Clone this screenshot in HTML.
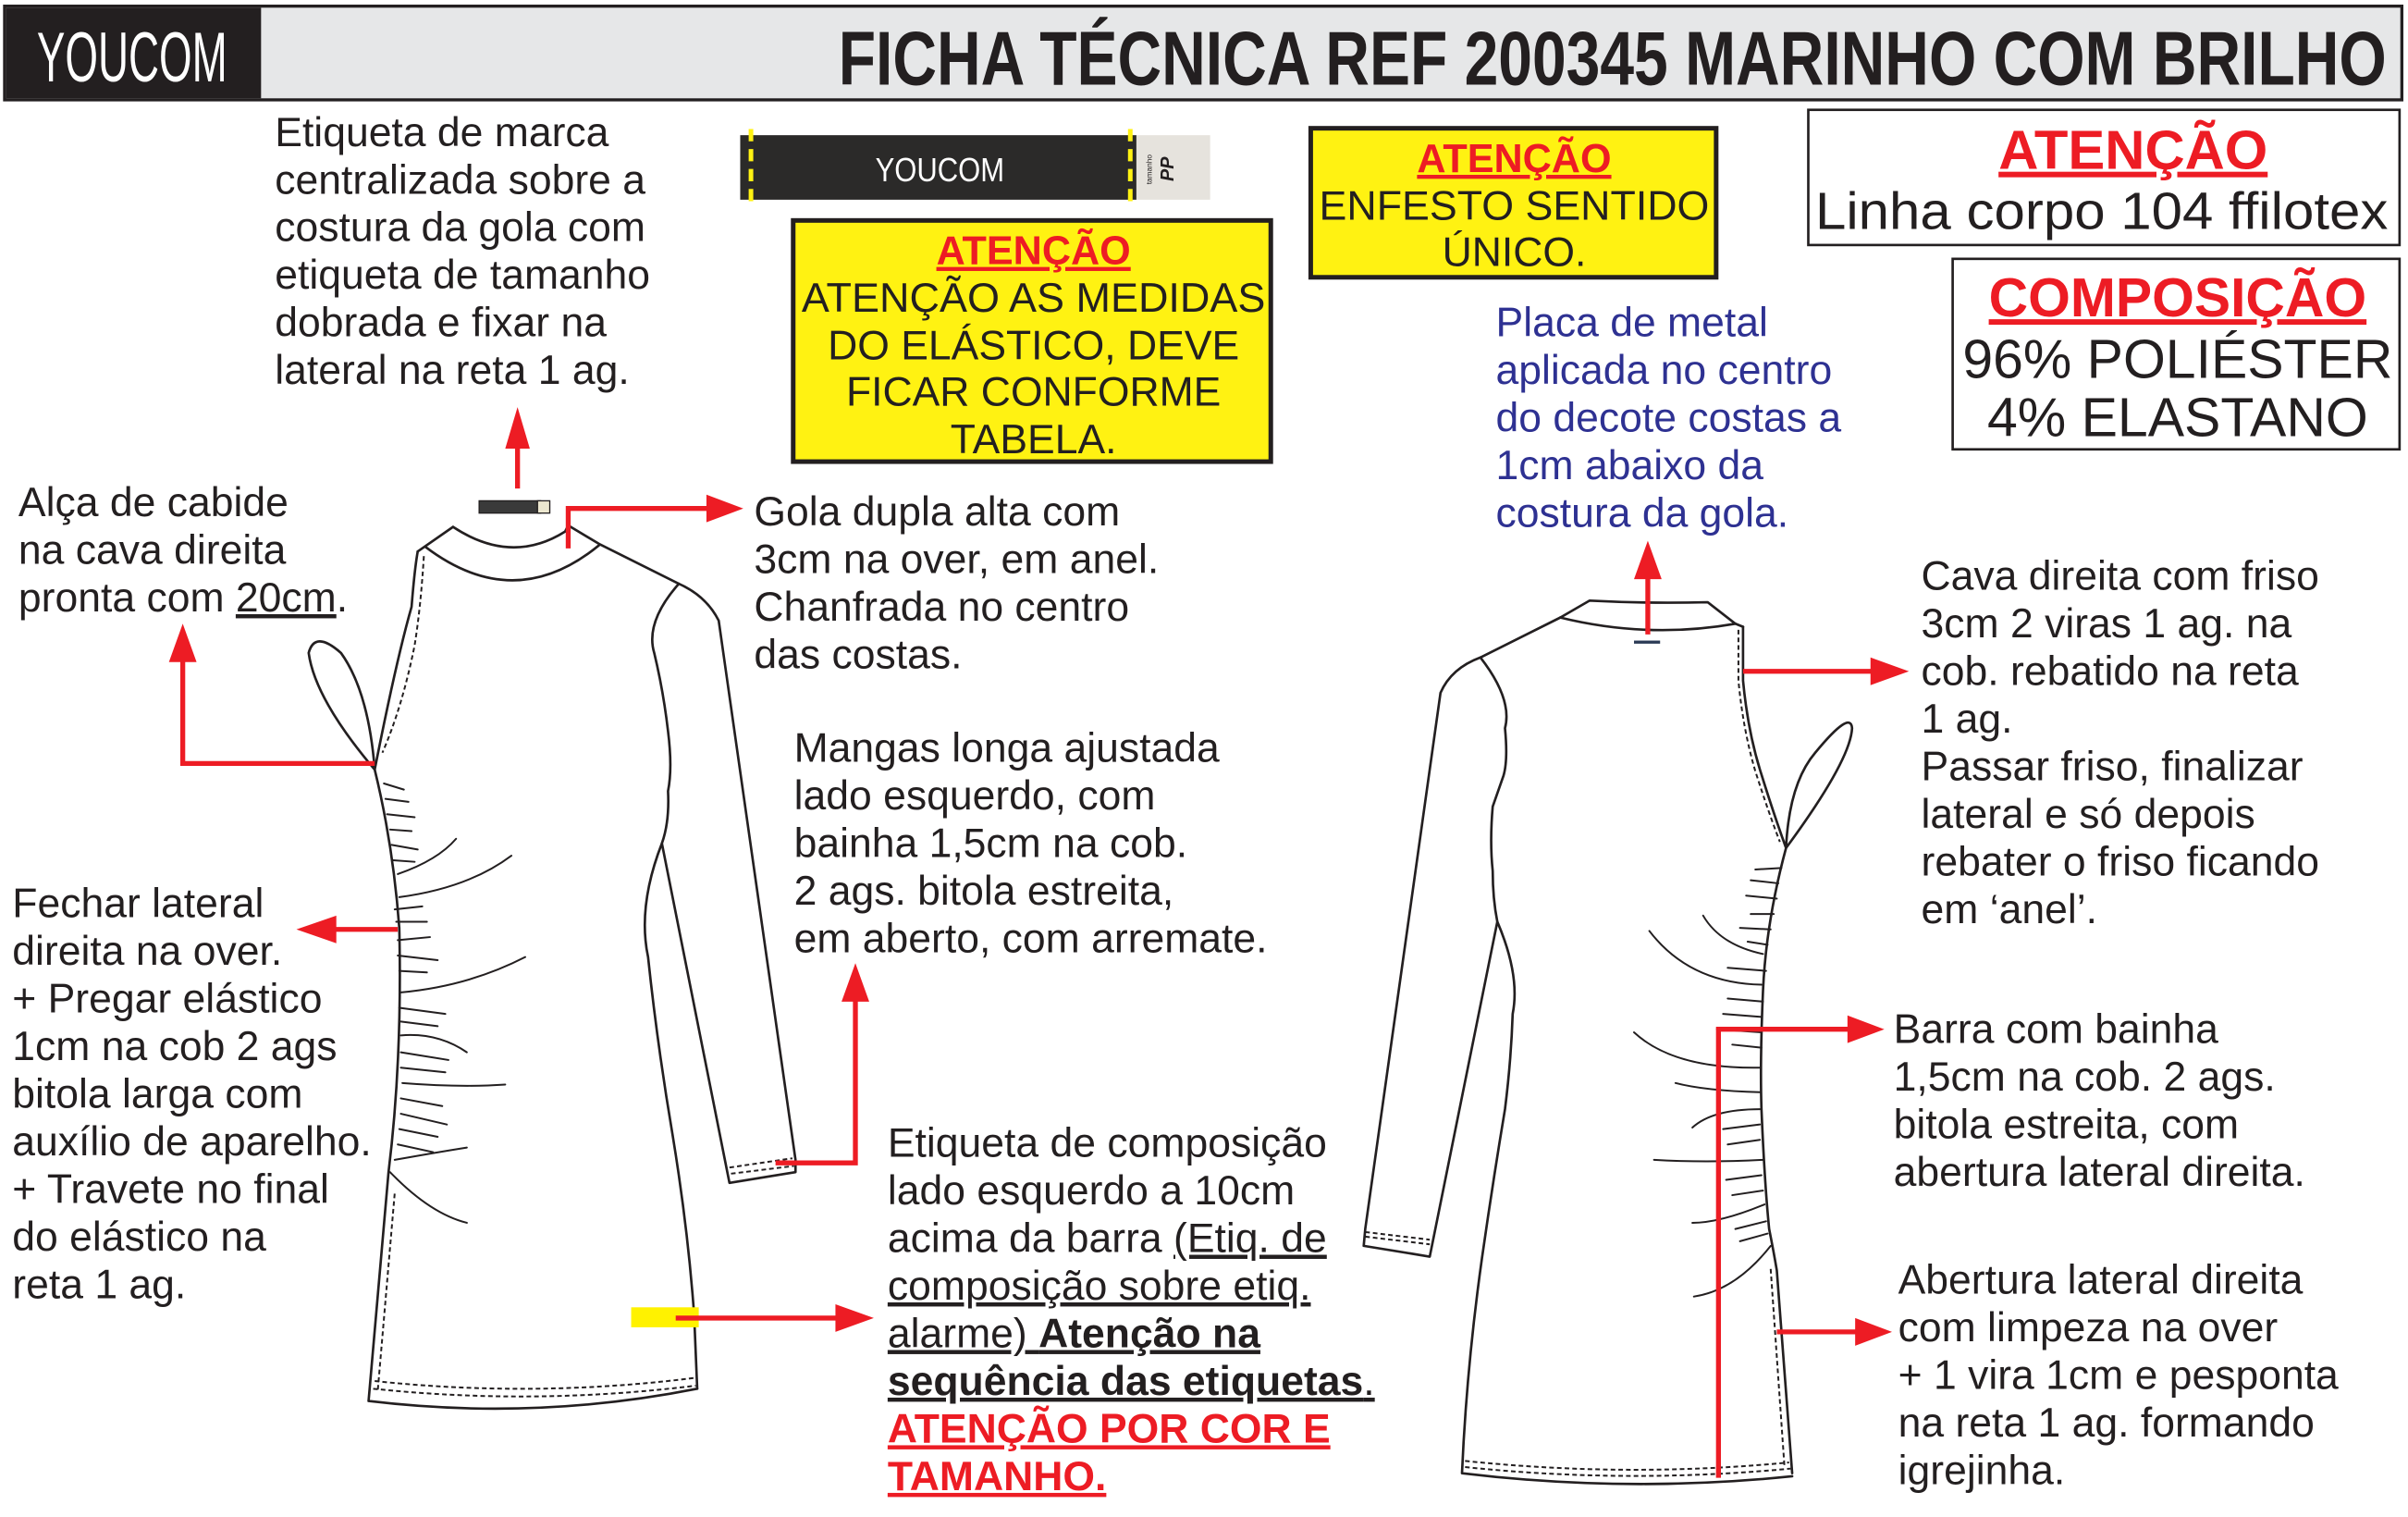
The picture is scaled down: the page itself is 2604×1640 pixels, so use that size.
<!DOCTYPE html>
<html><head><meta charset="utf-8"><style>
html,body{margin:0;padding:0;background:#fff;}
svg{display:block}
text{font-family:"Liberation Sans",Arial,sans-serif;fill:#231f20;}
.t{font-size:26.8px;}
.r{fill:#ed1c24;}
.b{font-weight:bold;}
.g{fill:none;stroke:#231f20;stroke-width:1.6;stroke-linecap:round;stroke-linejoin:round;}
.d{fill:none;stroke:#231f20;stroke-width:1.2;stroke-dasharray:3 2;}
.a{fill:none;stroke:#ed1c24;stroke-width:3.2;}
.h{fill:#ed1c24;}
</style></head><body>
<svg width="2604" height="1640" viewBox="0 0 1568 987.5" preserveAspectRatio="none" xmlns="http://www.w3.org/2000/svg">
<rect x="3" y="4" width="1561" height="61" fill="#e6e7e8" stroke="#231f20" stroke-width="2"/>
<rect x="4" y="5" width="166" height="59" fill="#231f20"/>
<text x="86" y="53" text-anchor="middle" style="font-family:'Liberation Sans Narrow','Liberation Sans',sans-serif;font-size:46px;fill:#fff" textLength="124" lengthAdjust="spacingAndGlyphs">YOUCOM</text>
<text x="546" y="55" class="b" style="font-family:'Liberation Sans Narrow','Liberation Sans',sans-serif;font-size:50px;font-weight:bold;fill:#231f20" textLength="1008" lengthAdjust="spacingAndGlyphs">FICHA TÉCNICA REF 200345 MARINHO COM BRILHO</text>

<rect x="482" y="88" width="258" height="42" fill="#2b2a29"/>
<rect x="740" y="88" width="48" height="42" fill="#e6e3dd"/>
<line x1="489" y1="84" x2="489" y2="135" stroke="#fff212" stroke-width="3" stroke-dasharray="8 5"/>
<line x1="736" y1="84" x2="736" y2="135" stroke="#fff212" stroke-width="3" stroke-dasharray="8 5"/>
<text x="612" y="118" text-anchor="middle" style="font-size:22px;fill:#fff" textLength="84" lengthAdjust="spacingAndGlyphs">YOUCOM</text>
<text transform="translate(764,118) rotate(-90)" style="font-size:12px;font-weight:bold;font-style:italic">PP</text>
<text transform="translate(750,120) rotate(-90)" style="font-size:5px">tamanho</text>

<g class="t">
<text x="179" y="95">Etiqueta de marca</text>
<text x="179" y="126">centralizada sobre a</text>
<text x="179" y="157">costura da gola com</text>
<text x="179" y="188">etiqueta de tamanho</text>
<text x="179" y="219">dobrada e fixar na</text>
<text x="179" y="250">lateral na reta 1 ag.</text>
</g>

<rect x="516.5" y="143.5" width="311" height="157" fill="#fff212" stroke="#231f20" stroke-width="3"/>
<text x="673" y="172" text-anchor="middle" class="b r" style="font-size:26px;text-decoration:underline">ATENÇÃO</text>
<g class="t" text-anchor="middle">
<text x="673" y="203" textLength="302" lengthAdjust="spacingAndGlyphs">ATENÇÃO AS MEDIDAS</text>
<text x="673" y="234">DO ELÁSTICO, DEVE</text>
<text x="673" y="264">FICAR CONFORME</text>
<text x="673" y="295">TABELA.</text>
</g>

<rect x="853.5" y="83.5" width="264" height="97" fill="#fff212" stroke="#231f20" stroke-width="3"/>
<text x="986" y="112" text-anchor="middle" class="b r" style="font-size:26px;text-decoration:underline">ATENÇÃO</text>
<g class="t" text-anchor="middle">
<text x="986" y="143" textLength="254" lengthAdjust="spacingAndGlyphs">ENFESTO SENTIDO</text>
<text x="986" y="173">ÚNICO.</text>
</g>

<rect x="1177.5" y="71.5" width="385" height="88" fill="#fff" stroke="#231f20" stroke-width="1.6"/>
<text x="1389" y="110" text-anchor="middle" class="b r" style="font-size:36px;text-decoration:underline">ATENÇÃO</text>
<text x="1182" y="149" style="font-size:34px" textLength="373" lengthAdjust="spacingAndGlyphs">Linha corpo 104 ffilotex</text>

<rect x="1271.5" y="168.5" width="291" height="124" fill="#fff" stroke="#231f20" stroke-width="1.6"/>
<text x="1418" y="206" text-anchor="middle" class="b r" style="font-size:36px;text-decoration:underline" textLength="246" lengthAdjust="spacingAndGlyphs">COMPOSIÇÃO</text>
<text x="1418" y="246" text-anchor="middle" style="font-size:36px" textLength="280" lengthAdjust="spacingAndGlyphs">96% POLIÉSTER</text>
<text x="1418" y="284" text-anchor="middle" style="font-size:36px" textLength="248" lengthAdjust="spacingAndGlyphs">4% ELASTANO</text>

<g class="t">
<text x="974" y="219" style="fill:#2e3192">Placa de metal</text>
<text x="974" y="250" style="fill:#2e3192">aplicada no centro</text>
<text x="974" y="281" style="fill:#2e3192">do decote costas a</text>
<text x="974" y="312" style="fill:#2e3192">1cm abaixo da</text>
<text x="974" y="343" style="fill:#2e3192">costura da gola.</text>
</g>

<g class="t">
<text x="12" y="336">Alça de cabide</text>
<text x="12" y="367">na cava direita</text>
<text x="12" y="398">pronta com <tspan style="text-decoration:underline">20cm</tspan>.</text>

<text x="491" y="342">Gola dupla alta com</text>
<text x="491" y="373">3cm na over, em anel.</text>
<text x="491" y="404">Chanfrada no centro</text>
<text x="491" y="435">das costas.</text>

<text x="517" y="496">Mangas longa ajustada</text>
<text x="517" y="527">lado esquerdo, com</text>
<text x="517" y="558">bainha 1,5cm na cob.</text>
<text x="517" y="589">2 ags. bitola estreita,</text>
<text x="517" y="620">em aberto, com arremate.</text>

<text x="8" y="597">Fechar lateral</text>
<text x="8" y="628">direita na over.</text>
<text x="8" y="659">+ Pregar elástico</text>
<text x="8" y="690">1cm na cob 2 ags</text>
<text x="8" y="721">bitola larga com</text>
<text x="8" y="752">auxílio de aparelho.</text>
<text x="8" y="783">+ Travete no final</text>
<text x="8" y="814">do elástico na</text>
<text x="8" y="845">reta 1 ag.</text>

<text x="578" y="753">Etiqueta de composição</text>
<text x="578" y="784">lado esquerdo a 10cm</text>
<text x="578" y="815">acima da barra <tspan style="text-decoration:underline">(Etiq. de</tspan></text>
<text x="578" y="846" style="text-decoration:underline">composição sobre etiq.</text>
<text x="578" y="877" style="text-decoration:underline">alarme) <tspan class="b">Atenção na </tspan></text>
<text x="578" y="908" style="text-decoration:underline"><tspan class="b">sequência das etiquetas</tspan>.</text>
<text x="578" y="939" class="b r" style="text-decoration:underline">ATENÇÃO POR COR E</text>
<text x="578" y="970" class="b r" style="text-decoration:underline">TAMANHO.</text>

<text x="1251" y="384">Cava direita com friso</text>
<text x="1251" y="415">3cm 2 viras 1 ag. na</text>
<text x="1251" y="446">cob. rebatido na reta</text>
<text x="1251" y="477">1 ag.</text>
<text x="1251" y="508">Passar friso, finalizar</text>
<text x="1251" y="539">lateral e só depois</text>
<text x="1251" y="570">rebater o friso ficando</text>
<text x="1251" y="601">em ‘anel’.</text>

<text x="1233" y="679">Barra com bainha</text>
<text x="1233" y="710">1,5cm na cob. 2 ags.</text>
<text x="1233" y="741">bitola estreita, com</text>
<text x="1233" y="772">abertura lateral direita.</text>

<text x="1236" y="842">Abertura lateral direita</text>
<text x="1236" y="873">com limpeza na over</text>
<text x="1236" y="904">+ 1 vira 1cm e pesponta</text>
<text x="1236" y="935">na reta 1 ag. formando</text>
<text x="1236" y="966">igrejinha.</text>
</g>

<g>
<path class="g" d="M295,343 Q333,368 368,346 L370,342 L390,354 L442,380 Q460,388 468,404 L518,755 L518,763 L475,770 L431,549"/>
<path class="g" d="M272,359 L295,343"/>
<path class="g" d="M277,356 Q335,400 390,355"/>
<path class="g" d="M442,380 Q420,405 426,425 Q432,450 435,476 Q438,500 435,515 Q436,535 431,549 Q415,590 422,623 Q428,680 438,739 Q448,800 452,856 L454,904"/>
<path class="g" d="M454,904 Q348,925 240,912 L253,763 Q262,690 260,604 Q256,550 244,501 Q258,430 268,395 Q270,370 272,359"/>
<path class="d" d="M276,362 Q274,395 270,420 Q262,460 249,490"/>
<path class="d" d="M257,777 L246,905"/>
<path class="d" d="M244,899 Q348,910 452,897"/>
<path class="d" d="M243,904 Q348,915 453,902"/>
<path class="d" d="M475,760 L516,754"/>
<path class="d" d="M476,764 L517,759"/>
<path class="g" d="M244,501 Q240,450 222,425 Q205,410 201,425 Q205,455 244,501"/>
<g class="g" style="stroke-width:1.2">
<path d="M259,569 Q285,560 297,546"/>
<path d="M260,584 Q305,578 333,557"/>
<path d="M261,646 Q305,642 342,623"/>
<path d="M261,674 Q285,672 304,685"/>
<path d="M262,705 Q300,708 329,706"/>
<path d="M257,755 Q285,750 304,747"/>
<path d="M254,763 Q280,790 304,796"/>
<path d="M250,510 L263,514"/><path d="M251,520 L266,522"/><path d="M252,530 L270,532"/><path d="M254,540 L268,541"/><path d="M255,550 L272,553"/><path d="M256,560 L270,561"/>
<path d="M257,592 L275,590"/><path d="M258,600 L278,600"/><path d="M259,612 L280,610"/><path d="M259,622 L285,625"/><path d="M260,632 L278,633"/><path d="M260,656 L290,660"/><path d="M261,665 L285,668"/><path d="M261,685 L292,690"/><path d="M261,695 L290,698"/><path d="M261,715 L288,720"/><path d="M261,725 L291,732"/><path d="M260,735 L285,740"/><path d="M259,745 L282,750"/>
</g>
</g>

<g>
<path class="g" d="M1016,402 L1035,391 Q1073,393 1112,392 L1130,406 L1135,408"/>
<path class="g" d="M1016,402 Q1073,416 1130,406"/>
<path class="g" d="M1016,402 L964,428 Q945,435 938,451 L889,800 L888,811 L931,818 L975,600"/>
<path class="g" d="M964,428 Q985,455 980,474 Q982,495 979,505 L972,525 Q970,548 972,567 Q972,585 975,600 Q990,635 985,660 Q984,690 980,722 Q972,770 965,819 Q955,890 952,959 Q1060,972 1167,961"/>
<path class="g" d="M1135,408 L1135,443 Q1138,475 1146,501 Q1155,530 1163,552 Q1150,600 1148,645 Q1146,690 1147,722 Q1149,770 1152,800 Q1155,815 1157,827 L1167,959"/>
<path class="d" d="M1132,410 L1132,443 Q1135,475 1143,502 Q1152,530 1159,548"/>
<path class="d" d="M1153,826 L1162,955"/>
<path class="d" d="M954,951 Q1060,962 1165,952"/>
<path class="d" d="M954,955 Q1060,966 1166,956"/>
<path class="d" d="M889,802 L931,807"/>
<path class="d" d="M889,805 L931,810"/>
<path class="g" d="M1163,552 Q1165,510 1182,490 Q1205,462 1206,474 Q1205,495 1163,552"/>
<rect x="1064" y="417" width="17" height="2" fill="#2b3a55"/>
<g class="g" style="stroke-width:1.2">
<path d="M1147,641 Q1100,640 1074,606"/>
<path d="M1148,621 Q1120,615 1109,596"/>
<path d="M1146,695 Q1090,696 1064,672"/>
<path d="M1146,711 Q1110,710 1091,705"/>
<path d="M1146,722 Q1115,722 1102,734"/>
<path d="M1148,755 Q1110,757 1077,755"/>
<path d="M1149,784 Q1120,796 1102,796"/>
<path d="M1153,811 Q1130,840 1103,844"/>
<path d="M1160,565 L1143,566"/><path d="M1158,575 L1140,573"/><path d="M1157,585 L1137,583"/><path d="M1155,595 L1140,595"/><path d="M1153,605 L1133,604"/><path d="M1151,615 L1138,613"/><path d="M1150,632 L1125,630"/><path d="M1148,652 L1125,650"/><path d="M1147,662 L1122,660"/><path d="M1147,672 L1118,670"/><path d="M1147,682 L1128,680"/><path d="M1146,732 L1122,735"/><path d="M1146,742 L1125,745"/><path d="M1147,765 L1124,768"/><path d="M1148,775 L1128,778"/><path d="M1150,795 L1130,800"/><path d="M1151,803 L1133,808"/>
</g>
</g>

<rect x="312" y="326" width="40" height="8" fill="#3a3a3a" stroke="#231f20" stroke-width="0.8"/>
<rect x="350" y="326" width="8" height="8" fill="#ece7cf" stroke="#231f20" stroke-width="0.8"/>

<path class="a" d="M337,318 L337,290"/><polygon class="h" points="337,265 329,292 345,292"/>
<path class="a" d="M370,357 L370,331 L462,331"/><polygon class="h" points="484,331 460,322 460,340"/>
<path class="a" d="M244,497 L119,497 L119,430"/><polygon class="h" points="119,406 110,431 128,431"/>
<path class="a" d="M259,605 L215,605"/><polygon class="h" points="193,605 219,596 219,614"/>
<path class="a" d="M505,757 L557,757 L557,650"/><polygon class="h" points="557,627 548,652 566,652"/>
<rect x="411" y="851" width="44" height="13" fill="#fff200"/>
<path class="a" d="M440,858 L546,858"/><polygon class="h" points="569,858 544,849 544,867"/>
<path class="a" d="M1073,413 L1073,375"/><polygon class="h" points="1073,352 1064,377 1082,377"/>
<path class="a" d="M1135,437 L1220,437"/><polygon class="h" points="1243,437 1218,428 1218,446"/>
<path class="a" d="M1119,962 L1119,670 L1205,670"/><polygon class="h" points="1227,670 1203,661 1203,679"/>
<path class="a" d="M1157,867 L1210,867"/><polygon class="h" points="1232,867 1208,858 1208,876"/>
</svg>
</body></html>
